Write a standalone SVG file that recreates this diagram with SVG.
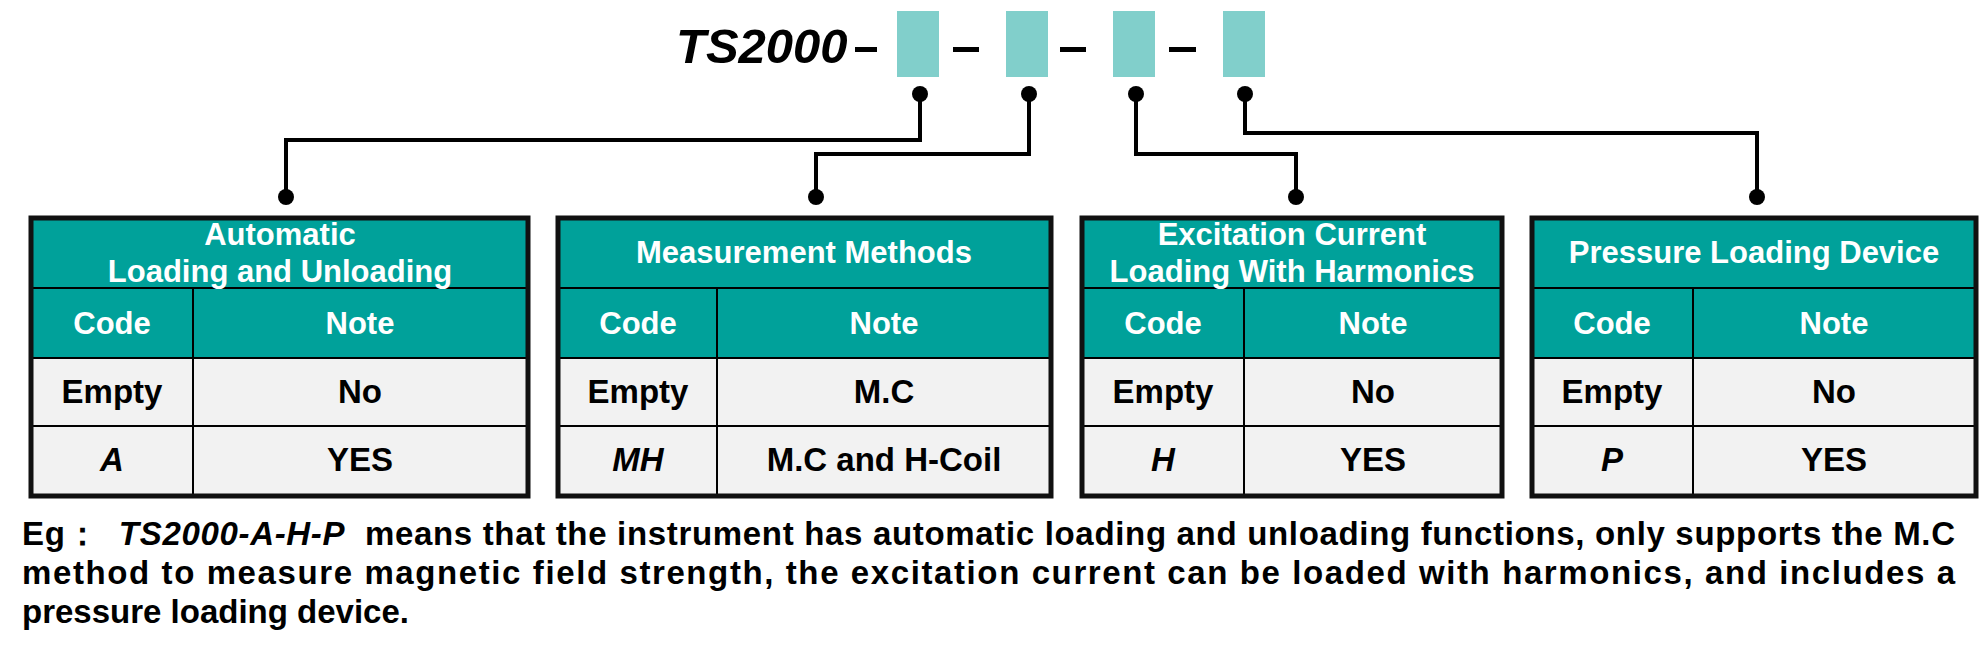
<svg xmlns="http://www.w3.org/2000/svg" width="1986" height="651" viewBox="0 0 1986 651">
<style>
.t{font-family:"Liberation Sans",Arial,sans-serif;font-weight:bold;text-anchor:middle}
.h{fill:#fff;font-size:31px}
.b{fill:#000;font-size:33px}
.i{font-style:italic}
.ln{stroke:#000;stroke-width:2}
.ob{fill:none;stroke:#111;stroke-width:5}
.conn{fill:none;stroke:#000;stroke-width:4}
.seg{fill:#81CFCB}
</style>
<rect width="1986" height="651" fill="#fff"/>
<g id="code">
<text x="676" y="63" font-family="Liberation Sans,Arial,sans-serif" font-weight="bold" font-style="italic" font-size="49">TS2000</text>
<rect x="855" y="47" width="22" height="5" fill="#000"/>
<rect class="seg" x="897" y="11" width="42" height="66"/>
<rect x="953" y="47" width="26" height="5" fill="#000"/>
<rect class="seg" x="1006" y="11" width="42" height="66"/>
<rect x="1060" y="47" width="26" height="5" fill="#000"/>
<rect class="seg" x="1113" y="11" width="42" height="66"/>
<rect x="1169" y="47" width="27" height="5" fill="#000"/>
<rect class="seg" x="1223" y="11" width="42" height="66"/>
</g>
<g id="connectors">
<path class="conn" d="M920 94V140H286V197"/>
<path class="conn" d="M1029 94V154H816V197"/>
<path class="conn" d="M1136 94V154H1296V197"/>
<path class="conn" d="M1245 94V133H1757V197"/>
<g fill="#000">
<circle cx="920" cy="94" r="8"/><circle cx="1029" cy="94" r="8"/><circle cx="1136" cy="94" r="8"/><circle cx="1245" cy="94" r="8"/>
<circle cx="286" cy="197" r="8"/><circle cx="816" cy="197" r="8"/><circle cx="1296" cy="197" r="8"/><circle cx="1757" cy="197" r="8"/>
</g>
</g>
<g id="t1">
<rect x="31" y="218" width="497" height="140" fill="#00A19A"/>
<rect x="31" y="358" width="497" height="138" fill="#F2F2F2"/>
<path class="ln" d="M31 288H528M31 358H528M31 426H528M193 288V496"/>
<rect class="ob" x="31" y="218" width="497" height="278"/>
<text class="t h" x="280" y="245">Automatic</text>
<text class="t h" x="280" y="282">Loading and Unloading</text>
<text class="t h" x="112" y="334">Code</text><text class="t h" x="360" y="334">Note</text>
<text class="t b" x="112" y="403">Empty</text><text class="t b" x="360" y="403">No</text>
<text class="t b i" x="112" y="471">A</text><text class="t b" x="360" y="471">YES</text>
</g>
<g id="t2">
<rect x="558" y="218" width="493" height="140" fill="#00A19A"/>
<rect x="558" y="358" width="493" height="138" fill="#F2F2F2"/>
<path class="ln" d="M558 288H1051M558 358H1051M558 426H1051M717 288V496"/>
<rect class="ob" x="558" y="218" width="493" height="278"/>
<text class="t h" x="804" y="263">Measurement Methods</text>
<text class="t h" x="638" y="334">Code</text><text class="t h" x="884" y="334">Note</text>
<text class="t b" x="638" y="403">Empty</text><text class="t b" x="884" y="403">M.C</text>
<text class="t b i" x="638" y="471">MH</text><text class="t b" x="884" y="471">M.C and H-Coil</text>
</g>
<g id="t3">
<rect x="1082" y="218" width="420" height="140" fill="#00A19A"/>
<rect x="1082" y="358" width="420" height="138" fill="#F2F2F2"/>
<path class="ln" d="M1082 288H1502M1082 358H1502M1082 426H1502M1244 288V496"/>
<rect class="ob" x="1082" y="218" width="420" height="278"/>
<text class="t h" x="1292" y="245">Excitation Current</text>
<text class="t h" x="1292" y="282">Loading With Harmonics</text>
<text class="t h" x="1163" y="334">Code</text><text class="t h" x="1373" y="334">Note</text>
<text class="t b" x="1163" y="403">Empty</text><text class="t b" x="1373" y="403">No</text>
<text class="t b i" x="1163" y="471">H</text><text class="t b" x="1373" y="471">YES</text>
</g>
<g id="t4">
<rect x="1532" y="218" width="444" height="140" fill="#00A19A"/>
<rect x="1532" y="358" width="444" height="138" fill="#F2F2F2"/>
<path class="ln" d="M1532 288H1976M1532 358H1976M1532 426H1976M1693 288V496"/>
<rect class="ob" x="1532" y="218" width="444" height="278"/>
<text class="t h" x="1754" y="263">Pressure Loading Device</text>
<text class="t h" x="1612" y="334">Code</text><text class="t h" x="1834" y="334">Note</text>
<text class="t b" x="1612" y="403">Empty</text><text class="t b" x="1834" y="403">No</text>
<text class="t b i" x="1612" y="471">P</text><text class="t b" x="1834" y="471">YES</text>
</g>
<g id="note" font-family="Liberation Sans,Arial,sans-serif" font-weight="bold" font-size="33" fill="#000">
<text x="22" y="545" textLength="1933" lengthAdjust="spacing" xml:space="preserve">Eg：  <tspan font-style="italic">TS2000-A-H-P</tspan>  means that the instrument has automatic loading and unloading functions, only supports the M.C</text>
<text x="22" y="584" textLength="1933" lengthAdjust="spacing">method to measure magnetic field strength, the excitation current can be loaded with harmonics, and includes a</text>
<text x="22" y="623">pressure loading device.</text>
</g>
</svg>
